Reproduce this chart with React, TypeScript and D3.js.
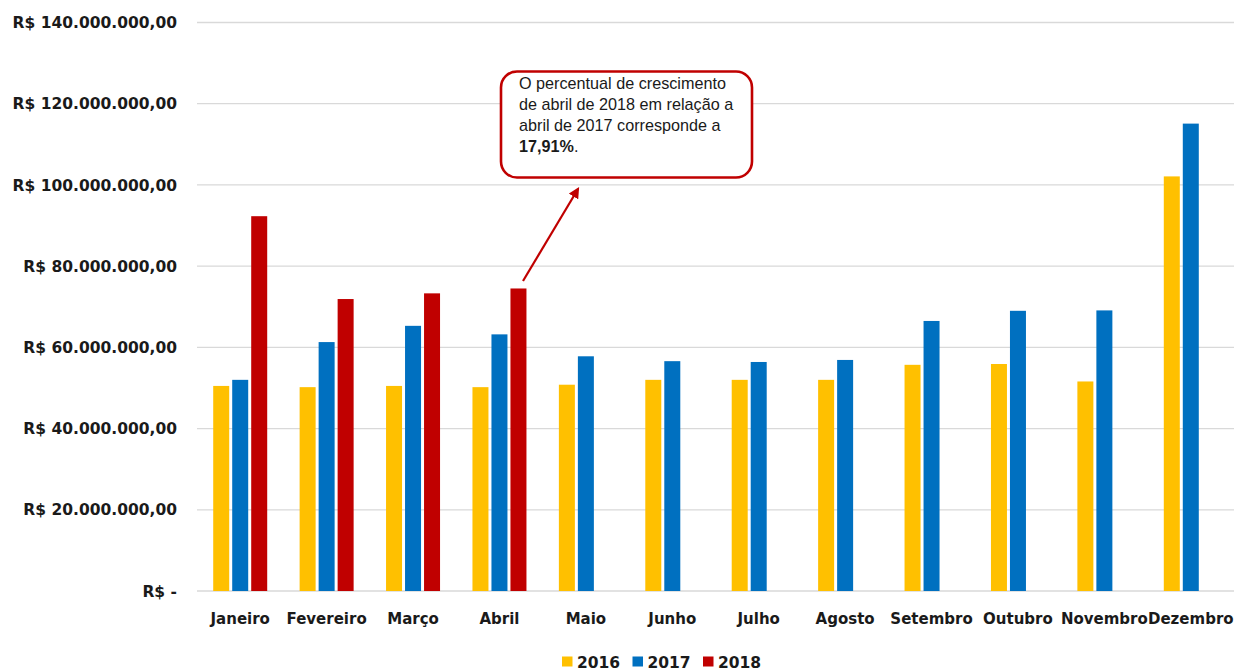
import React from "react";
import * as d3 from "d3";

const months = ["Janeiro", "Fevereiro", "Março", "Abril", "Maio", "Junho", "Julho", "Agosto", "Setembro", "Outubro", "Novembro", "Dezembro"];
const series2016 = [50.5, 50.2, 50.5, 50.2, 50.8, 52.0, 52.0, 52.0, 55.7, 55.9, 51.6, 102.1].map((v) => v * 1e6);
const series2017 = [52.0, 61.3, 65.3, 63.2, 57.8, 56.6, 56.4, 56.9, 66.5, 69.0, 69.1, 115.1].map((v) => v * 1e6);
const series2018 = [92.3, 71.9, 73.3, 74.5, null, null, null, null, null, null, null, null].map((v) => (v == null ? null : v * 1e6));
const years = ["2016", "2017", "2018"];
const colors = ["#FFC000", "#0070C0", "#C00000"];
const yTicks = [0, 20e6, 40e6, 60e6, 80e6, 100e6, 120e6, 140e6];
const calloutLines = [
  [{ t: "O percentual de crescimento", b: false }],
  [{ t: "de abril de 2018  em relação a", b: false }],
  [{ t: "abril de 2017  corresponde a", b: false }],
  [{ t: "17,91%", b: true }, { t: ".", b: false }],
];

const W = 1237;
const H = 671;
const left = 197;
const right = 1234;
const top = 22.5;
const bottom = 591;

function fmt(v: number) {
  if (v === 0) return "R$ -";
  const s = d3.format(",.2f")(v);
  return "R$ " + s.replace(/,/g, "#").replace(/\./g, ",").replace(/#/g, ".");
}

export default function App() {
  const x = d3.scaleBand<string>().domain(months).range([left, right]).paddingInner(0).paddingOuter(0);
  const y = d3.scaleLinear().domain([0, 140e6]).range([bottom, top]);
  const all = [series2016, series2017, series2018];
  const barW = 16;
  const step = 19;
  const font = "'DejaVu Sans', Verdana, sans-serif";
  return (
    <svg width={W} height={H} style={{ display: "block", position: "absolute", left: 0, top: 0 }}>
      <rect width={W} height={H} fill="#fff" />
      {yTicks.map((t) => (
        <g key={t}>
          <line x1={left} x2={right} y1={y(t)} y2={y(t)} stroke="#D9D9D9" strokeWidth={1.3} />
          <text x={177} y={y(t)} dy="0.36em" textAnchor="end" fontFamily={font} fontWeight="bold" fontSize={15.5} fill="#1a1a1a">
            {fmt(t)}
          </text>
        </g>
      ))}
      {all.map((ser, si) =>
        ser.map((v, i) =>
          v == null ? null : (
            <rect
              key={si + "-" + i}
              x={(x(months[i]) as number) + x.bandwidth() / 2 + (si - 1) * step - barW / 2}
              y={y(v)}
              width={barW}
              height={bottom - y(v)}
              fill={colors[si]}
            />
          )
        )
      )}
      {months.map((m) => (
        <text key={m} x={(x(m) as number) + x.bandwidth() / 2} y={624} textAnchor="middle" fontFamily={font} fontWeight="bold" fontSize={15} fill="#1a1a1a">
          {m}
        </text>
      ))}
      {/* legend */}
      {years.map((yr, i) => (
        <g key={yr} transform={`translate(${562 + i * 70.5},0)`}>
          <rect x={0} y={656.5} width={10.5} height={10} fill={colors[i]} />
          <text x={15} y={668} fontFamily={font} fontWeight="bold" fontSize={15.5} fill="#1a1a1a">
            {yr}
          </text>
        </g>
      ))}
      {/* callout */}
      <defs>
        <marker id="arrow" viewBox="0 0 10 10" refX="8" refY="5" markerWidth="5" markerHeight="5" orient="auto">
          <path d="M0,0 L10,5 L0,10 z" fill="#C00000" />
        </marker>
      </defs>
      <line x1={523} y1={281} x2={578} y2={189} stroke="#C00000" strokeWidth={2.2} markerEnd="url(#arrow)" />
      <rect x={501} y={71.5} width={251} height={106} rx={16} ry={16} fill="#fff" stroke="#C00000" strokeWidth={2.6} />
      {calloutLines.map((line, li) => (
        <text key={li} x={519} y={88.5 + li * 21.3} fontFamily="'Liberation Sans', Arial, sans-serif" fontSize={16.2} fill="#1a1a1a">
          {line.map((seg, si) => (
            <tspan key={si} fontWeight={seg.b ? "bold" : "normal"}>
              {seg.t}
            </tspan>
          ))}
        </text>
      ))}
    </svg>
  );
}
